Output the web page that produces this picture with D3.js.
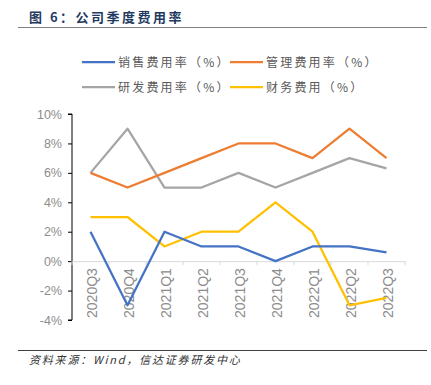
<!DOCTYPE html>
<html><head><meta charset="utf-8">
<script src="https://cdn.jsdelivr.net/npm/d3@7/dist/d3.min.js"></script>
<style>body{margin:0;background:#fff}svg{display:block}</style>
</head><body>
<svg id="c" width="431" height="385"></svg>
<script>
const categories = ["2020Q3","2020Q4","2021Q1","2021Q2","2021Q3","2021Q4","2022Q1","2022Q2","2022Q3"];
const sales   = [2, -3, 2, 1, 1, 0, 1, 1, 0.6];
const admin   = [6, 5, 6, 7, 8, 8, 7, 9, 7];
const rnd     = [6, 9, 5, 5, 6, 5, 6, 7, 6.3];
const finance = [3, 3, 1, 2, 2, 4, 2, -3, -2.5];
const yTicks  = [-4, -2, 0, 2, 4, 6, 8, 10];
const seriesNames = ["销售费用率（%）","管理费用率（%）","研发费用率（%）","财务费用（%）"];
const colors = ["#4472C4","#ED7D31","#A5A5A5","#FFC000"];

const svg = d3.select("#c");
const font = "'Noto Sans CJK SC', sans-serif";

// title
svg.append("text").attr("x",29).attr("y",22).attr("font-family",font).attr("font-weight","bold")
  .attr("font-size",13).attr("fill","#1F3A5F").attr("letter-spacing","2.5").text("图 6：公司季度费用率");
svg.append("line").attr("x1",18).attr("x2",427).attr("y1",27.5).attr("y2",27.5).attr("stroke","#808080").attr("stroke-width",1);
svg.append("line").attr("x1",18).attr("x2",427).attr("y1",350.5).attr("y2",350.5).attr("stroke","#404040").attr("stroke-width",1);
svg.append("text").attr("x",29).attr("y",364).attr("font-family",font).attr("font-style","italic")
  .attr("font-size",11).attr("fill","#333").attr("letter-spacing","1.8").text("资料来源：Wind，信达证券研发中心");

const x = d3.scaleBand().domain(categories).range([72,405]);
const y = d3.scaleLinear().domain([-4,10]).range([320,114]);

// y axis
const ya = svg.append("g").attr("transform","translate(72,0)")
  .call(d3.axisLeft(y).tickValues(yTicks).tickSize(4).tickFormat(d=>d+"%"));
ya.select(".domain").attr("stroke","#000").attr("d","M-4,"+y(10)+"H0V"+y(-4)+"H-4");
ya.selectAll(".tick line").attr("stroke","#000");
ya.selectAll(".tick text").attr("font-family","'Liberation Sans', Arial, sans-serif").attr("font-size",12.5).attr("fill","#8c8c8c").attr("x",-10);

// x axis at 0
const xa = svg.append("g").attr("transform","translate(0,"+y(0)+")")
  .call(d3.axisBottom(x).tickSize(0));
xa.select(".domain").attr("stroke","#d9d9d9");
xa.selectAll(".tick text").attr("font-family","'Liberation Sans', Arial, sans-serif").attr("font-size",14).attr("fill","#8c8c8c")
  .attr("transform","rotate(-90)").attr("text-anchor","end").attr("dy","0.38em").attr("x",-7).attr("y",1);
const bounds = categories.map(c=>x(c)).concat([x.range()[1]]);
xa.selectAll(".bnd").data(bounds).enter().append("line").attr("class","bnd")
  .attr("x1",d=>d).attr("x2",d=>d).attr("y1",0).attr("y2",4).attr("stroke","#d9d9d9");

// lines
const line = d3.line().x((d,i)=>x(categories[i])+x.bandwidth()/2).y(d=>y(d));
const order = [[rnd,2],[admin,1],[finance,3],[sales,0]];
order.forEach(([s,i])=>{
  svg.append("path").attr("d",line(s)).attr("fill","none").attr("stroke",colors[i]).attr("stroke-width",2.25).attr("stroke-linejoin","round");
});

// legend
const leg = [[82,62,0],[230,62,1],[82,87,2],[230,87,3]];
leg.forEach(([lx,ly,i])=>{
  svg.append("line").attr("x1",lx).attr("x2",lx+33).attr("y1",ly).attr("y2",ly).attr("stroke",colors[i]).attr("stroke-width",2.25);
  svg.append("text").attr("x",lx+36).attr("y",ly+4.5).attr("font-family",font).attr("font-size",12).attr("fill","#595959")
    .attr("letter-spacing","2.2").text(seriesNames[i]);
});
</script>
</body></html>
